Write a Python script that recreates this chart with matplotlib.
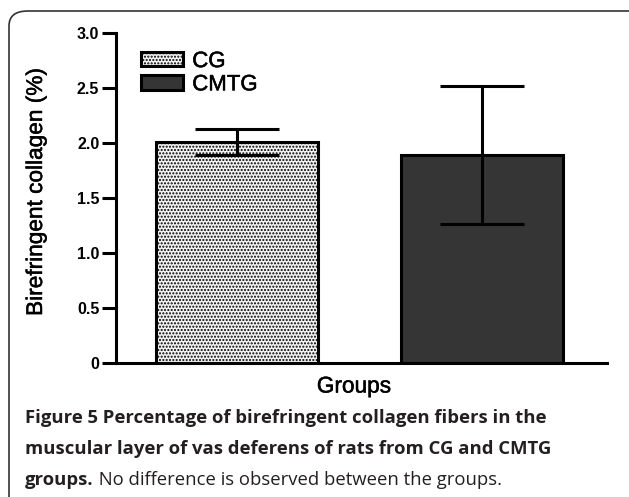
import matplotlib
matplotlib.use("Agg")
import matplotlib.pyplot as plt
import matplotlib.patheffects as pe
from matplotlib.patches import FancyBboxPatch, Patch

categories = ["CG", "CMTG"]
means = [2.01, 1.89]
errors = [0.115, 0.63]
yticks = [0, 0.5, 1.0, 1.5, 2.0, 2.5, 3.0]
ytick_labels = ["0", "0.5", "1.0", "1.5", "2.0", "2.5", "3.0"]
ylabel = "Birefringent collagen (%)"
xlabel = "Groups"
caption_bold = ["Figure 5 Percentage of birefringent collagen fibers in the",
                "muscular layer of vas deferens of rats from CG and CMTG",
                "groups."]
caption_regular = " No difference is observed between the groups."

W, H = 629, 497
plt.rcParams['hatch.linewidth'] = 1.0
fig = plt.figure(figsize=(W / 100, H / 100), dpi=100)
ax = fig.add_axes([116 / W, 1 - 363 / H, (607 - 116) / W, (363 - 33) / H])

sans = ["Liberation Sans", "DejaVu Sans"]
thick = [pe.withStroke(linewidth=0.35, foreground="black")]
faces = ["#f2f2f2", "#353535"]
hatches = [".....", None]
xs = [0, 1]
bars = ax.bar(xs, means, width=0.661, color=faces, edgecolor="black",
              linewidth=2.2, zorder=2)
for b, h in zip(bars, hatches):
    if h:
        b.set_hatch(h)
ax.errorbar(xs, means, yerr=errors, fmt="none", ecolor="black",
            elinewidth=2.2, capsize=30, capthick=2.2, zorder=3)

ax.set_xlim(-0.494, 1.51)
ax.set_ylim(0, 3.0)
ax.set_yticks(yticks)
ax.set_yticklabels(ytick_labels, fontfamily=sans, fontweight="bold", fontsize=11.5)
ax.set_xticks([])
for s in ["top", "right"]:
    ax.spines[s].set_visible(False)
ax.spines["left"].set_linewidth(2.2)
ax.spines["bottom"].set_linewidth(2.2)
ax.tick_params(axis="y", length=10, width=2.2, pad=2)
yl = ax.set_ylabel(ylabel, fontfamily=sans, fontsize=16.3)
yl.set_path_effects(thick)
ax.yaxis.set_label_coords(-(116 - 47) / 491, (363 - 192) / 330)
xl = ax.set_xlabel(xlabel, fontfamily=sans, fontsize=16.3)
xl.set_path_effects(thick)
ax.xaxis.set_label_coords((354 - 116) / 491, -(386 - 363) / 330)
xl.set_va("center")

handles = [Patch(facecolor=faces[i], edgecolor="black", linewidth=2.2,
                 hatch=hatches[i], label=categories[i]) for i in range(2)]
leg = ax.legend(handles=handles, loc="upper left", bbox_to_anchor=(130 / W, 1 - 40 / H),
                bbox_transform=fig.transFigure, frameon=False, borderpad=0,
                handlelength=1.9, handleheight=0.6, handletextpad=0.4,
                labelspacing=0.1, prop={"family": sans, "size": 16})
for txt in leg.get_texts():
    txt.set_path_effects(thick)

# rounded frame
frame = FancyBboxPatch((9 / W, -20 / H), 640 / W, (H - 11 + 20) / H,
                       boxstyle="round,pad=0,rounding_size=0.03",
                       transform=fig.transFigure, fill=False,
                       edgecolor="#333333", linewidth=1.2)
fig.patches.append(frame)

cap_font = ["Open Sans", "DejaVu Sans"]
cap_size = 13.3
ys = [1 - 418 / H, 1 - 449 / H, 1 - 480 / H]
for i, line in enumerate(caption_bold):
    t = fig.text(25 / W, ys[i], line, fontfamily=cap_font, fontweight="bold",
                 fontsize=cap_size, color="#231f20", va="center", ha="left")
ax.annotate(caption_regular, xy=(1, 0), xycoords=t, va="bottom", ha="left",
            fontfamily=cap_font, fontsize=cap_size, color="#231f20",
            annotation_clip=False)

fig.savefig("out.png", dpi=100)
